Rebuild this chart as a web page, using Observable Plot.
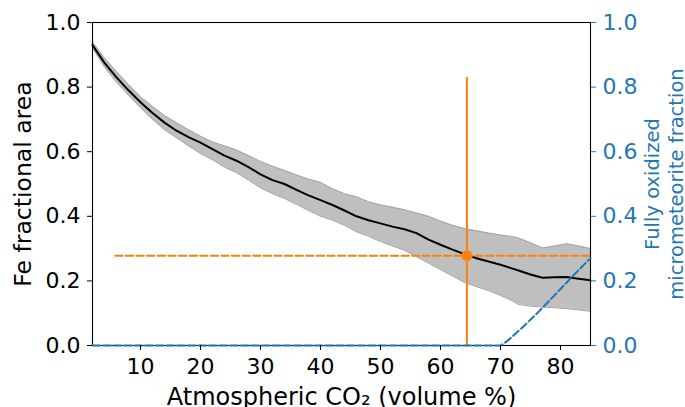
<!DOCTYPE html>
<html>
<head>
<meta charset="utf-8">
<script src="https://cdn.jsdelivr.net/npm/d3@7"></script>
<script src="https://cdn.jsdelivr.net/npm/@observablehq/plot@0.6"></script>
<style>
  html, body { margin: 0; padding: 0; background: #fff; }
  #chart svg { display: block; }
</style>
</head>
<body>
<div id="chart"></div>
<script>
// Fe fractional area vs atmospheric CO2 (mean and spread)
const co2    = [2, 4, 6, 8, 10, 12, 14, 16, 18, 20, 22, 24, 26, 28, 30, 32, 34, 36, 38, 40, 42, 44, 46, 48, 50, 52, 54, 56, 58, 60, 62, 64, 66, 68, 70, 72, 73, 75, 77, 79, 81, 83, 85];
const feMean = [0.930, 0.875, 0.830, 0.790, 0.753, 0.720, 0.690, 0.665, 0.645, 0.628, 0.608, 0.588, 0.572, 0.552, 0.530, 0.512, 0.500, 0.482, 0.465, 0.450, 0.435, 0.418, 0.400, 0.388, 0.378, 0.368, 0.360, 0.348, 0.328, 0.312, 0.297, 0.283, 0.270, 0.260, 0.250, 0.238, 0.232, 0.220, 0.210, 0.211, 0.212, 0.207, 0.202];
const feHigh = [0.940, 0.890, 0.848, 0.808, 0.770, 0.740, 0.712, 0.690, 0.668, 0.648, 0.630, 0.618, 0.605, 0.588, 0.570, 0.555, 0.542, 0.528, 0.515, 0.505, 0.485, 0.470, 0.460, 0.445, 0.435, 0.428, 0.420, 0.410, 0.400, 0.385, 0.372, 0.362, 0.355, 0.348, 0.342, 0.337, 0.333, 0.318, 0.302, 0.308, 0.315, 0.308, 0.300];
const feLow  = [0.920, 0.862, 0.815, 0.775, 0.736, 0.700, 0.668, 0.643, 0.618, 0.594, 0.575, 0.552, 0.535, 0.512, 0.488, 0.470, 0.455, 0.437, 0.418, 0.400, 0.388, 0.372, 0.352, 0.338, 0.322, 0.308, 0.295, 0.275, 0.255, 0.235, 0.215, 0.195, 0.182, 0.170, 0.155, 0.138, 0.127, 0.122, 0.119, 0.117, 0.114, 0.110, 0.106];

// Fully oxidized micrometeorite fraction (right axis, same 0-1 range)
const oxCO2  = [2, 70, 71, 72, 74, 76, 78, 80, 82, 84, 85];
const oxFrac = [0, 0, 0.012, 0.028, 0.062, 0.098, 0.136, 0.175, 0.214, 0.252, 0.270];

// Observed value with error bar
const obsCO2 = 64.4;
const obsFe = 0.278;
const obsErrLow = 0;
const obsErrHigh = 0.83;
const obsLineStart = 5.8;
const obsLineEnd = 85;

// Ticks
const xTicks = [10, 20, 30, 40, 50, 60, 70, 80];
const yTicks = [0, 0.2, 0.4, 0.6, 0.8, 1.0];

const ORANGE = "#ff7f0e";
const BLUE = "#1f77b4";

const band = co2.map((x, i) => ({x, mean: feMean[i], lo: feLow[i], hi: feHigh[i]}));
const ox = oxCO2.map((x, i) => ({x, y: oxFrac[i]}));
const obsLine = [{x: obsLineStart, y: obsFe}, {x: obsLineEnd, y: obsFe}];

const chart = Plot.plot({
  width: 685,
  height: 407,
  marginLeft: 92,
  marginRight: 95,
  marginTop: 22,
  marginBottom: 62,
  style: {fontFamily: "DejaVu Sans, sans-serif", background: "#fff", color: "#000", overflow: "hidden"},
  x: {domain: [2, 85]},
  y: {domain: [0, 1]},
  marks: [
    Plot.areaY(band, {x: "x", y1: "lo", y2: "hi", fill: "#bfbfbf"}),
    Plot.lineY(band, {x: "x", y: "hi", stroke: "#a3a3a3", strokeWidth: 1}),
    Plot.lineY(band, {x: "x", y: "lo", stroke: "#a3a3a3", strokeWidth: 1}),
    Plot.lineY(band, {x: "x", y: "mean", stroke: "#000", strokeWidth: 2}),
    Plot.frame({stroke: "#000", strokeWidth: 1.1}),
    Plot.ruleX([obsCO2], {y1: obsErrLow, y2: obsErrHigh, stroke: ORANGE, strokeWidth: 2}),
    Plot.lineY(obsLine, {x: "x", y: "y", stroke: ORANGE, strokeWidth: 2, strokeDasharray: "7.4,3.2"}),
    Plot.dot([{x: obsCO2, y: obsFe}], {x: "x", y: "y", r: 5.5, fill: ORANGE, stroke: null}),
    Plot.lineY(ox, {x: "x", y: "y", stroke: BLUE, strokeWidth: 2, strokeDasharray: "7.4,3.2"}),
    Plot.axisX({ticks: xTicks, tickSize: 5, tickPadding: 8, fontSize: 22, label: null, stroke: "#000", fill: "#000"}),
    Plot.axisY({anchor: "left", ticks: yTicks, tickFormat: d3.format(".1f"), tickSize: 5, tickPadding: 7, fontSize: 22, label: null, stroke: "#000", fill: "#000"}),
    Plot.axisY({anchor: "right", ticks: yTicks, tickFormat: d3.format(".1f"), tickSize: 5, tickPadding: 7, fontSize: 22, label: null, stroke: BLUE, fill: BLUE}),
    Plot.text(["Fe fractional area"], {frameAnchor: "left", dx: -69, rotate: -90, fontSize: 23.5, fill: "#000", lineAnchor: "middle", textAnchor: "middle"}),
    Plot.text(["Fully oxidized\nmicrometeorite fraction"], {frameAnchor: "right", dx: 73, rotate: -90, fontSize: 19.5, lineHeight: 1.2, fill: BLUE, lineAnchor: "middle", textAnchor: "middle"}),
    Plot.text(["Atmospheric CO\u2082 (volume %)"], {frameAnchor: "bottom", dy: 59, fontSize: 24, fill: "#000", lineAnchor: "bottom", textAnchor: "middle"})
  ]
});
document.getElementById("chart").appendChild(chart);
</script>
</body>
</html>
